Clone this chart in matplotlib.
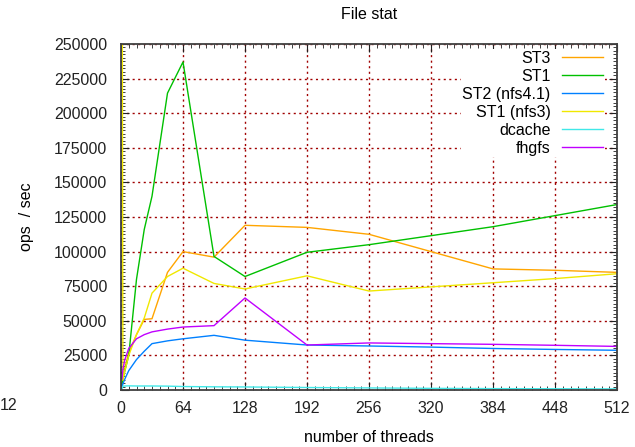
import matplotlib
matplotlib.use('Agg')
import matplotlib.pyplot as plt
from matplotlib.ticker import MultipleLocator

plt.rcParams['font.family'] = ['Liberation Sans', 'DejaVu Sans']

# thread counts and measured ops/sec per storage setup
threads = [1, 2, 4, 8, 16, 24, 32, 48, 64, 96, 128, 192, 256, 320, 384, 448, 512]
st3 = [5000, 10000, 16000, 27000, 40000, 51000, 51500, 85000, 100000, 96000,
       119000, 117500, 112500, 100000, 87500, 86500, 85000]
st1 = [4000, 8000, 14000, 25000, 80000, 116000, 140000, 214500, 237000, 96500,
       82000, 99500, 105000, 111500, 118000, 126000, 134000]
st2_nfs41 = [2000, 4500, 8000, 14000, 22000, 28000, 33500, 35500, 37000, 39500,
             36000, 32500, 31800, 31000, 30000, 29300, 28700]
st1_nfs3 = [400000, 7000, 14000, 25000, 40000, 52000, 70000, 82000, 88000, 77000,
            73000, 82500, 71500, 74500, 77500, 80500, 84000]
dcache = [1000, 2800, 2900, 3000, 2900, 2900, 2900, 2800, 2500, 2300,
          2200, 1800, 1500, 1200, 1000, 900, 800]
fhgfs = [8000, 15000, 22000, 30000, 37000, 40000, 42000, 44000, 45500, 46500,
         66500, 32500, 34000, 33500, 33000, 32300, 31500]

series = [
    ('ST3', st3, '#ffa500'),
    ('ST1', st1, '#00c000'),
    ('ST2 (nfs4.1)', st2_nfs41, '#0080ff'),
    ('ST1 (nfs3)', st1_nfs3, '#f0e800'),
    ('dcache', dcache, '#40e8e8'),
    ('fhgfs', fhgfs, '#c000ff'),
]

W, H = 635, 447
fig = plt.figure(figsize=(W / 100, H / 100), dpi=100)
ax = fig.add_axes([121 / W, 1 - 390 / H, 496 / W, 346 / H])

for label, vals, color in series:
    ax.plot(threads, vals, color=color, lw=1.0, label=label)

ax.set_xlim(0, 512)
ax.set_ylim(0, 250000)
ax.xaxis.set_major_locator(MultipleLocator(64))
ax.xaxis.set_minor_locator(MultipleLocator(8))
ax.yaxis.set_major_locator(MultipleLocator(25000))
ax.yaxis.set_minor_locator(MultipleLocator(2500))

ax.set_axisbelow(True)
ax.grid(True, which='major', color='#a00000', linestyle=(0, (1.5, 2.5)), lw=1.0)

for s in ax.spines.values():
    s.set_color('#404040')
    s.set_linewidth(1.3)

ax.tick_params(which='both', direction='in', top=True, right=True,
               colors='#202020', labelcolor='#222222', labelsize=11.5)
ax.tick_params(which='major', length=6, pad=8)
ax.tick_params(which='minor', length=3)
ax.tick_params(axis='y', which='major', pad=10)

ax.set_title('File stat', fontsize=11.5, pad=18)
ax.set_xlabel('number of threads', fontsize=11.5, labelpad=10)
ax.set_ylabel('ops  / sec', fontsize=11.5, labelpad=14)

# opaque key box in the top right corner, text right-aligned before the sample
leg = ax.legend(loc='upper right', bbox_to_anchor=(605 / W, 1 - 49 / H),
                bbox_transform=fig.transFigure, borderaxespad=0,
                frameon=True, facecolor='white', edgecolor='none', framealpha=1,
                fancybox=False, borderpad=0.1, markerfirst=False,
                fontsize=11.5, handlelength=2.6, handletextpad=0.7,
                labelspacing=0.19)
for t in leg.get_texts():
    t.set_ha('right')
leg._legend_box.align = 'right'

fig.text(0, 1 - 405 / H, '12', ha='left', va='center',
         fontsize=11.5, color='#222222')

fig.savefig('out.png', dpi=100)
